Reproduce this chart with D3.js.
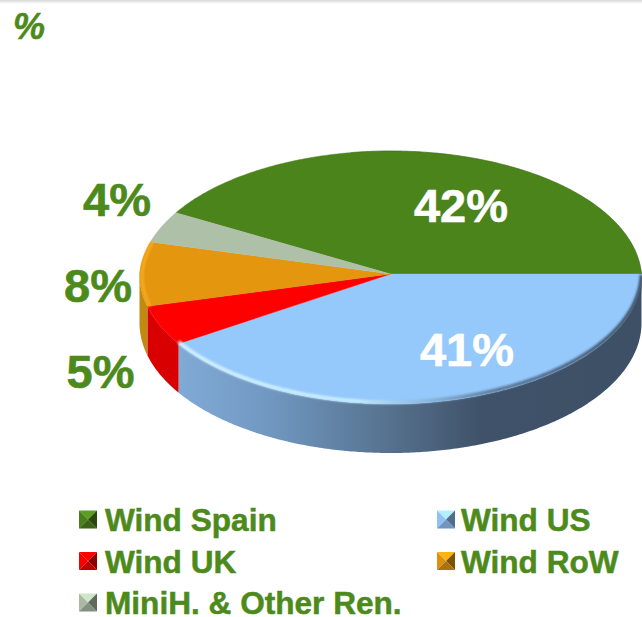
<!DOCTYPE html>
<html><head><meta charset="utf-8">
<script src="https://cdn.jsdelivr.net/npm/d3@7"></script>
<style>html,body{margin:0;padding:0;background:#fff;overflow:hidden}svg{display:block}text{font-family:"Liberation Sans",Arial,sans-serif;font-weight:700}</style>
</head><body><div id="c"></div>
<script>
const categories = ["Wind Spain","Wind US","Wind UK","Wind RoW","MiniH. & Other Ren."];
const values = [42,41,5,8,4];
const labels = ["42%","41%","5%","8%","4%"];
const colors = ["#4c841c","#95c8fb","#ff0000","#e3960e","#afc0a9"];
const sideColors = ["#2e5a10","#7ca8d3","#d80000","#c08a10","#8c9a88"];
const unitLabel = "%";

const W=642,H=617, cx=390.5, cy=274, rx=251, ryTop=123, ryBot=130, depth=49;
const green="#4d8a1c";
const svg=d3.select("#c").append("svg").attr("width",W).attr("height",H);
const defs=svg.append("defs");

const sideGrad=defs.append("linearGradient").attr("id","blueSide").attr("gradientUnits","userSpaceOnUse")
  .attr("x1",180).attr("x2",642).attr("y1",0).attr("y2",0);
[[0,"#80aad6"],[0.2,"#7097c0"],[0.45,"#56728f"],[0.65,"#3f5269"],[1,"#3d5066"]].forEach(s=>sideGrad.append("stop").attr("offset",s[0]).attr("stop-color",s[1]));
const hiGrad=defs.append("linearGradient").attr("id","hi").attr("gradientUnits","userSpaceOnUse")
  .attr("x1",180).attr("x2",642).attr("y1",0).attr("y2",0);
[[0,"#d2f2ff",1],[0.38,"#c8eeff",1],[0.52,"#8fb8dc",.9],[0.68,"#54708e",.9],[1,"#3d5066",1]].forEach(s=>hiGrad.append("stop").attr("offset",s[0]).attr("stop-color",s[1]).attr("stop-opacity",s[2]));
defs.append("filter").attr("id","soft").append("feGaussianBlur").attr("stdDeviation",1);
const topGrad=defs.append("linearGradient").attr("id","topShade").attr("x1",0).attr("x2",0).attr("y1",0).attr("y2",1);
topGrad.append("stop").attr("offset",0).attr("stop-color","#d8d8d8");
topGrad.append("stop").attr("offset",1).attr("stop-color","#fff");
svg.append("rect").attr("width",W).attr("height",4).attr("fill","url(#topShade)");

const arcs=d3.pie().sort(null).value(d=>d)
  .startAngle(-61.2*Math.PI/180).endAngle(298.8*Math.PI/180)(values);
// slight perspective: the far half of the disc is narrower than the near half
const px=a=>{const c=-Math.cos(a);return cx+rx*Math.sin(a)*(c<0?1+0.05*c:1);};
const py=a=>{const c=-Math.cos(a);return cy+(c>0?ryBot*c:ryTop*c+8*(1+c)*c);};
const samples=(a0,a1)=>{const n=Math.max(2,Math.ceil(Math.abs(a1-a0)/0.01));return d3.range(n+1).map(i=>a0+(a1-a0)*i/n);};
const line=d3.line();
const ptsOf=(a0,a1,dy=0)=>samples(a0,a1).map(a=>[px(a),py(a)+dy]);

// side walls: the front half of the rim
const F0=Math.PI/2,F1=3*Math.PI/2;
const gSide=svg.append("g");
arcs.forEach((d,i)=>{
  const a0=Math.max(d.startAngle,F0),a1=Math.min(d.endAngle,F1);
  if(a1<=a0) return;
  const p=ptsOf(a0,a1).concat(ptsOf(a1,a0,depth));
  gSide.append("path").attr("d",line(p)+"Z")
    .attr("fill",i===1?"url(#blueSide)":sideColors[i]);
});

// top face
const gTop=svg.append("g");
arcs.forEach((d,i)=>{
  gTop.append("path").attr("d",line([[cx,cy]].concat(ptsOf(d.startAngle,d.endAngle)))+"Z")
    .attr("fill",colors[i]).attr("stroke",colors[i]).attr("stroke-width",.4);
});
// bevel highlights along the rim
const usArc=arcs[1];
svg.append("path").attr("d",line(ptsOf(usArc.startAngle+0.02,usArc.endAngle,-1.8)))
  .attr("fill","none").attr("stroke","url(#hi)").attr("stroke-width",3.6).attr("filter","url(#soft)");
svg.append("path").attr("d",line(ptsOf(arcs[3].startAngle,arcs[3].endAngle).map(p=>[p[0]+2.5,p[1]])))
  .attr("fill","none").attr("stroke","#f8aa20").attr("stroke-width",3).attr("filter","url(#soft)");
svg.append("path").attr("d",line(ptsOf(arcs[0].startAngle+0.9,arcs[0].endAngle,0)))
  .attr("fill","none").attr("stroke","#2e5a10").attr("stroke-width",.8).attr("opacity",.5);

// labels
const labelPos=[[461,222,"#fff"],[467,365.5,"#fff"],[100.5,388,green],[98,302,green],[117,215.5,green]];
svg.selectAll("text.lab").data(labels).join("text").attr("class","lab")
  .attr("x",(d,i)=>labelPos[i][0]).attr("y",(d,i)=>labelPos[i][1])
  .attr("text-anchor","middle").attr("font-size",47)
  .attr("fill",(d,i)=>labelPos[i][2]).attr("stroke",(d,i)=>labelPos[i][2]).attr("stroke-width",.6).text(d=>d);
svg.append("text").attr("x",13).attr("y",38.5).attr("font-size",36).attr("font-style","italic")
  .attr("fill",green).attr("stroke",green).attr("stroke-width",.5).text(unitLabel);

// legend
const legendPos=[[79,531],[437,531],[79,572.5],[437,572.5],[79,614]];
const s=18;
const lg=svg.selectAll("g.leg").data(categories).join("g").attr("class","leg")
  .attr("transform",(d,i)=>`translate(${legendPos[i][0]},${legendPos[i][1]-20.5})`);
lg.each(function(d,i){
  const g=d3.select(this),c=d3.color(colors[i]);
  const m=s/2;
  const faces=[
    [[0,0],[s,0],[m,m],c.brighter(.5)],
    [[0,0],[0,s],[m,m],c.darker(.1)],
    [[s,0],[s,s],[m,m],c.darker(1.7)],
    [[0,s],[s,s],[m,m],c.darker(.8)]];
  faces.forEach(f=>g.append("path").attr("d",line(f.slice(0,3))+"Z").attr("fill",f[3].formatHex()));
  g.append("text").attr("x",i%2&&i<4?24:26).attr("y",20.5).attr("font-size",31.6)
    .attr("fill",green).attr("stroke",green).attr("stroke-width",.5).text(d);
});
</script></body></html>
